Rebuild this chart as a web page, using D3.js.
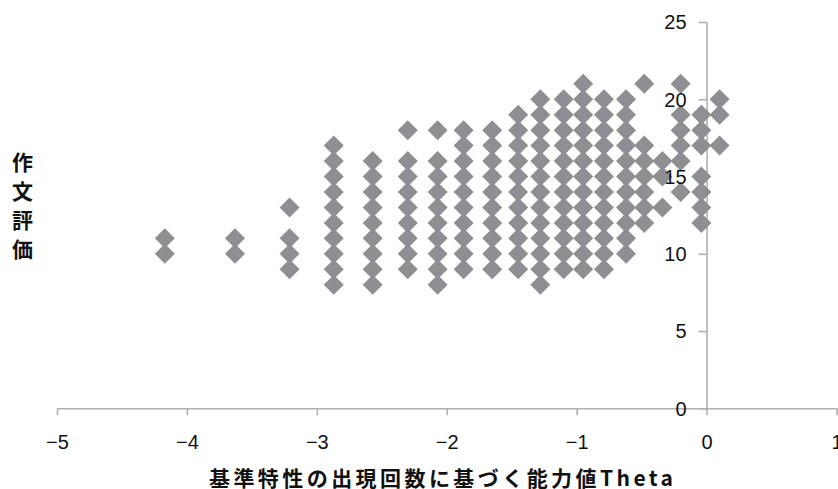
<!DOCTYPE html>
<html>
<head>
<meta charset="utf-8">
<script src="https://cdn.jsdelivr.net/npm/d3@7"></script>
<style>
  html, body { margin: 0; padding: 0; background: #fff; }
  svg { display: block; }
</style>
</head>
<body>
<svg id="chart" width="838" height="489"></svg>
<script>
// ---- data ----
const thetaValues = [-4.17, -3.63, -3.21, -2.87, -2.57, -2.30, -2.07, -1.87, -1.65, -1.45,
                     -1.28, -1.10, -0.95, -0.79, -0.62, -0.48, -0.34, -0.20, -0.04, 0.10];
const essayScores = [
  [10, 11],
  [10, 11],
  [9, 10, 11, 13],
  [8, 9, 10, 11, 12, 13, 14, 15, 16, 17],
  [8, 9, 10, 11, 12, 13, 14, 15, 16],
  [9, 10, 11, 12, 13, 14, 15, 16, 18],
  [8, 9, 10, 11, 12, 13, 14, 15, 16, 18],
  [9, 10, 11, 12, 13, 14, 15, 16, 17, 18],
  [9, 10, 11, 12, 13, 14, 15, 16, 17, 18],
  [9, 10, 11, 12, 13, 14, 15, 16, 17, 18, 19],
  [8, 9, 10, 11, 12, 13, 14, 15, 16, 17, 18, 19, 20],
  [9, 10, 11, 12, 13, 14, 15, 16, 17, 18, 19, 20],
  [9, 10, 11, 12, 13, 14, 15, 16, 17, 18, 19, 20, 21],
  [9, 10, 11, 12, 13, 14, 15, 16, 17, 18, 19, 20],
  [10, 11, 12, 13, 14, 15, 16, 17, 18, 19, 20],
  [12, 13, 14, 15, 16, 17, 21],
  [13, 15, 16],
  [14, 16, 17, 18, 19, 21],
  [12, 13, 14, 15, 17, 18, 19],
  [17, 19, 20]
];
const xTicks = [-5, -4, -3, -2, -1, 0, 1];
const yTicks = [0, 5, 10, 15, 20, 25];
const xTitle = "基準特性の出現回数に基づく能力値Theta";
const yTitle = "作文評価";

// ---- build points ----
const points = [];
thetaValues.forEach((t, i) => essayScores[i].forEach(s => points.push({ theta: t, score: s })));

const svg = d3.select("#chart");
const x = d3.scaleLinear().domain([-5, 1]).range([57, 836.5]);
const y = d3.scaleLinear().domain([0, 25]).range([408.3, 22]);

const axisColor = "#b0b0b0";
const fmt = d => (d < 0 ? "\u2212" + Math.abs(d) : String(d));

const xAxis = d3.axisBottom(x).tickValues(xTicks).tickSize(7).tickSizeOuter(0).tickFormat(fmt);
const yAxis = d3.axisLeft(y).tickValues(yTicks).tickSize(8).tickSizeOuter(0).tickFormat(fmt);

// axis lines (below points)
function styleLines(g) {
  g.selectAll("text").remove();
  g.select(".domain").attr("stroke", axisColor).attr("stroke-width", 1.6);
  g.selectAll(".tick line").attr("stroke", axisColor).attr("stroke-width", 1.6);
}
svg.append("g").attr("transform", `translate(0,${y(0)})`).call(xAxis).call(styleLines);
svg.append("g").attr("transform", `translate(${x(0)},0)`).call(yAxis).call(styleLines);

// diamonds
const diamond = {
  draw(ctx, size) {
    const r = Math.sqrt(size / 2);
    ctx.moveTo(0, -r); ctx.lineTo(r, 0); ctx.lineTo(0, r); ctx.lineTo(-r, 0); ctx.closePath();
  }
};
svg.append("g")
  .selectAll("path")
  .data(points)
  .join("path")
  .attr("d", d3.symbol(diamond, 200))
  .attr("transform", d => `translate(${x(d.theta)},${y(d.score)})`)
  .attr("fill", "#8e8f93");

// axis labels (above points)
function styleText(g) {
  g.select(".domain").remove();
  g.selectAll(".tick line").remove();
  g.selectAll("text")
    .attr("fill", "#111")
    .attr("font-family", "'Liberation Sans', Arial, sans-serif")
    .attr("font-size", 20);
}
svg.append("g").attr("transform", `translate(0,${y(0)})`).call(xAxis).call(styleText)
  .selectAll("text").attr("y", 27).attr("dy", "0.71em");
svg.append("g").attr("transform", `translate(${x(0)},0)`).call(yAxis).call(styleText)
  .selectAll("text").attr("x", -20).attr("dy", "0.34em");

// x title
svg.append("text")
  .attr("x", 209).attr("y", 477)
  .attr("dominant-baseline", "central")
  .attr("font-family", "'Noto Sans CJK JP', sans-serif")
  .attr("font-weight", "bold")
  .attr("font-size", 21)
  .attr("fill", "#111")
  .attr("textLength", 464)
  .attr("lengthAdjust", "spacing")
  .text(xTitle);

// y title (vertical)
svg.append("text")
  .attr("x", 22.5).attr("y", 152)
  .style("writing-mode", "vertical-rl")
  .attr("font-family", "'Noto Sans CJK JP', sans-serif")
  .attr("font-weight", "bold")
  .attr("font-size", 21)
  .attr("letter-spacing", "7.7px")
  .attr("fill", "#111")
  .text(yTitle);
</script>
</body>
</html>
